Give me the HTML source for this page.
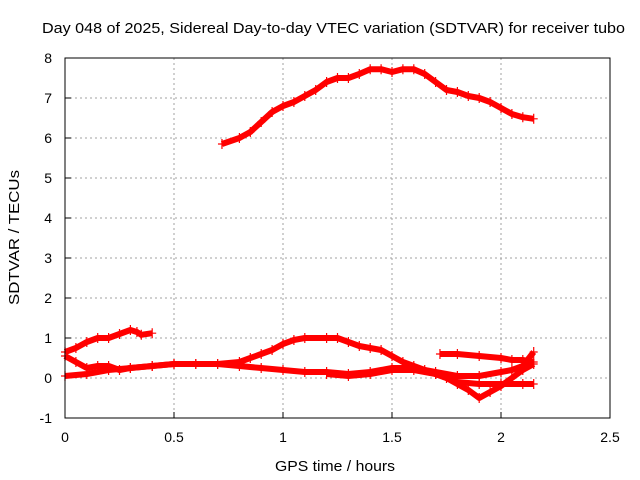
<!DOCTYPE html>
<html><head><meta charset="utf-8"><style>
body{margin:0;background:#fff}
svg{display:block;font-family:"Liberation Sans",sans-serif}
</style></head><body>
<svg id="chart" width="640" height="480">
<text x="42" y="33" font-size="15" textLength="583" lengthAdjust="spacingAndGlyphs">Day 048 of 2025, Sidereal Day-to-day VTEC variation (SDTVAR) for receiver tubo</text>
<text x="275" y="471" font-size="15" textLength="120" lengthAdjust="spacingAndGlyphs">GPS time / hours</text>
<text transform="translate(19,305) rotate(-90)" font-size="15" textLength="135" lengthAdjust="spacingAndGlyphs">SDTVAR / TECUs</text>
<g id="grid"></g><g id="series"></g>
<rect x="65" y="58" width="545" height="360" fill="none" stroke="#000" stroke-width="1"/>
</svg>
<script>
const xTicks=[0,0.5,1,1.5,2,2.5];
const xTickLabels=["0","0.5","1","1.5","2","2.5"];
const yTicks=[-1,0,1,2,3,4,5,6,7,8];
const yTickLabels=["-1","0","1","2","3","4","5","6","7","8"];
const seriesA=[[0.72,5.85],[0.8,6.0],[0.85,6.15],[0.9,6.4],[0.95,6.65],[1.0,6.8],[1.05,6.9],[1.1,7.05],[1.15,7.2],[1.2,7.4],[1.25,7.5],[1.3,7.5],[1.35,7.6],[1.4,7.72],[1.45,7.72],[1.5,7.65],[1.55,7.72],[1.6,7.72],[1.65,7.6],[1.7,7.4],[1.75,7.2],[1.8,7.15],[1.85,7.05],[1.9,7.0],[1.95,6.9],[2.0,6.75],[2.05,6.6],[2.1,6.52],[2.15,6.48]];
const seriesB=[[0,0.65],[0.05,0.75],[0.1,0.9],[0.15,1.0],[0.2,1.0],[0.25,1.1],[0.3,1.2],[0.33,1.15],[0.35,1.08],[0.4,1.12]];
const seriesC=[[0,0.55],[0.05,0.4],[0.1,0.25],[0.15,0.3],[0.2,0.3],[0.25,0.2],[0.3,0.25],[0.4,0.3],[0.5,0.35],[0.6,0.35],[0.7,0.35],[0.8,0.4],[0.85,0.5],[0.9,0.6],[0.95,0.7],[1.0,0.85],[1.05,0.95],[1.1,1.0],[1.2,1.0],[1.25,1.0],[1.3,0.9],[1.35,0.8],[1.4,0.75],[1.45,0.7],[1.5,0.55],[1.55,0.4],[1.6,0.3],[1.65,0.2],[1.7,0.1],[1.75,0.0],[1.8,-0.15],[1.85,-0.3],[1.9,-0.5],[1.95,-0.35],[2.0,-0.2],[2.05,0.0],[2.1,0.2],[2.15,0.35]];
const seriesD=[[0,0.05],[0.1,0.1],[0.2,0.2],[0.3,0.25],[0.4,0.3],[0.5,0.35],[0.6,0.35],[0.7,0.35],[0.8,0.3],[0.9,0.25],[1.0,0.2],[1.1,0.15],[1.2,0.15],[1.3,0.1],[1.4,0.15],[1.5,0.25],[1.6,0.25],[1.7,0.15],[1.8,0.05],[1.9,0.05],[2.0,0.15],[2.05,0.2],[2.1,0.3],[2.15,0.65]];
const seriesE=[[1.2,0.1],[1.3,0.05],[1.4,0.1],[1.5,0.2],[1.6,0.2],[1.7,0.1],[1.8,-0.1],[1.9,-0.15],[2.0,-0.15],[2.1,-0.15],[2.15,-0.15]];
const seriesF=[[1.72,0.6],[1.8,0.6],[1.9,0.55],[2.0,0.5],[2.05,0.45],[2.1,0.45],[2.15,0.4]];
const NS="http://www.w3.org/2000/svg";
const X=h=>65+h*218, Y=v=>378-v*40;
const grid=document.getElementById('grid'), ser=document.getElementById('series');
function mk(tag,at,parent){const e=document.createElementNS(NS,tag);for(const k in at)e.setAttribute(k,at[k]);parent.appendChild(e);return e;}
xTicks.forEach((t,i)=>{
  if(i>0&&i<xTicks.length-1){const g=mk('line',{x1:X(t),x2:X(t),y1:58,y2:418,stroke:'#a0a0a0','stroke-dasharray':'2,3'},grid);
  
  }
  const tk=mk('line',{x1:X(t),x2:X(t),y1:418,y2:412,stroke:'#000'},grid);
  
  
  const l=mk('text',{x:X(t),y:442,'font-size':14,'text-anchor':'middle'},grid);l.textContent=xTickLabels[i];
  
  
});
yTicks.forEach((t,i)=>{
  if(i>0&&i<yTicks.length-1){const g=mk('line',{x1:65,x2:610,y1:Y(t),y2:Y(t),stroke:'#a0a0a0','stroke-dasharray':'2,3'},grid);
  
  }
  const tk=mk('line',{x1:65,x2:71,y1:Y(t),y2:Y(t),stroke:'#000'},grid);
  
  
  const l=mk('text',{x:52,y:Y(t)+5,'font-size':14,'text-anchor':'end'},grid);l.textContent=yTickLabels[i];
  
  
});
[seriesA,seriesB,seriesC,seriesD,seriesE,seriesF].forEach((s,si)=>{
  const g=mk('g',{},ser);
  
  
  mk('polyline',{points:s.map(p=>X(p[0])+','+Y(p[1])).join(' '),fill:'none',stroke:'#ff0000','stroke-width':6,'stroke-linejoin':'round'},g);
  const path=s.map(p=>{const x=X(p[0]),y=Y(p[1]);return `M${x-4},${y}h8M${x},${y-5}v10`;}).join('');
  mk('path',{d:path,stroke:'#ff0000','stroke-width':1.2,fill:'none'},g);
});
</script>
</body></html>
